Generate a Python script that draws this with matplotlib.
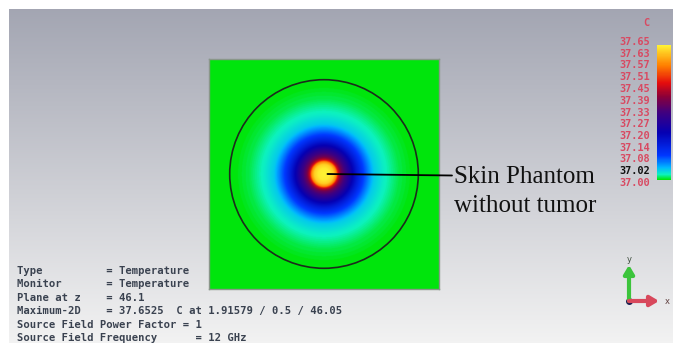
import numpy as np
import matplotlib
matplotlib.use("Agg")
import matplotlib.pyplot as plt
from matplotlib.colors import LinearSegmentedColormap
from matplotlib.patches import Circle

# Radial temperature profile through the hot spot (distance from centre, deg C)
radius_pts = [0.0, 2.5, 4.2, 5.4, 6.2, 7.6, 11.7, 14.3, 17.0, 19.6, 21.7, 26.1, 32.6, 39.1, 80.0]
temp_pts = [37.6525, 37.645, 37.62, 37.56, 37.45, 37.37, 37.25, 37.18, 37.12, 37.08, 37.05, 37.03, 37.01, 37.00, 37.00]
t_min, t_max = 37.00, 37.6525
phantom_radius = 41.0
half_width = 50.0

scale_labels = ['37.65', '37.63', '37.57', '37.51', '37.45', '37.39', '37.33',
                '37.27', '37.20', '37.14', '37.08', '37.02', '37.00']

info_lines = ["Type          = Temperature",
              "Monitor       = Temperature",
              "Plane at z    = 46.1",
              "Maximum-2D    = 37.6525  C at 1.91579 / 0.5 / 46.05",
              "Source Field Power Factor = 1",
              "Source Field Frequency      = 12 GHz"]

# CST style colour scale
cst = LinearSegmentedColormap.from_list('cst', [
    (0.00, (0.00, 0.90, 0.05)),
    (0.04, (0.05, 0.95, 0.75)),
    (0.09, (0.00, 0.72, 1.00)),
    (0.18, (0.00, 0.22, 1.00)),
    (0.35, (0.02, 0.00, 0.70)),
    (0.50, (0.25, 0.00, 0.50)),
    (0.62, (0.55, 0.00, 0.22)),
    (0.72, (0.90, 0.05, 0.05)),
    (0.85, (1.00, 0.50, 0.00)),
    (1.00, (1.00, 0.95, 0.20))])

W, H = 673, 343
fig = plt.figure(figsize=(W / 100, H / 100), dpi=100, facecolor='white')

# grey-to-white backdrop
bg = fig.add_axes([9 / W, 0, (W - 9) / W, (H - 9) / H])
top = np.array([0.64, 0.65, 0.70])
bot = np.array([0.95, 0.95, 0.95])
f = np.linspace(0, 1, 300)[:, None, None]
bg.imshow(top + (bot - top) * f, aspect='auto', extent=(0, 1, 0, 1))
bg.axis('off')

# field plot
ax = fig.add_axes([209 / W, (H - 289) / H, 230 / W, 230 / H])
g = np.linspace(-half_width, half_width, 500)
X, Y = np.meshgrid(g, g)
R = np.hypot(X, Y)
T = np.interp(R, radius_pts, temp_pts)
im = ax.imshow(T, cmap=cst, vmin=t_min, vmax=t_max, origin='lower',
               extent=(-half_width, half_width, -half_width, half_width),
               interpolation='bilinear')
ax.add_patch(Circle((0, 0), phantom_radius, fill=False, ec='#1c2c1c', lw=1.2))
ax.set_xticks([])
ax.set_yticks([])
for s in ax.spines.values():
    s.set_color('#8a968a')
    s.set_linewidth(1.0)

# overlay in pixel units for labels
ov = fig.add_axes([0, 0, 1, 1], facecolor='none')
ov.set_xlim(0, W)
ov.set_ylim(H, 0)
ov.axis('off')

ax.annotate('', xy=(1.5, 0.0), xycoords='data',
            xytext=(452, 175.5), textcoords=ov.transData,
            arrowprops=dict(arrowstyle='-', color='black', lw=1.3,
                            shrinkA=0, shrinkB=0))
ov.text(454, 183, 'Skin Phantom', family='Liberation Serif', fontsize=18,
        va='baseline', ha='left', color='#111111')
ov.text(454, 212, 'without tumor', family='Liberation Serif', fontsize=18,
        va='baseline', ha='left', color='#111111')

# colour bar
cax = fig.add_axes([657 / W, (H - 180) / H, 14 / W, 135 / H])
cb = fig.colorbar(im, cax=cax)
cb.set_ticks([])
cb.outline.set_visible(False)

for lab, y in zip(scale_labels, np.linspace(42, 183, len(scale_labels))):
    col = '#111111' if lab == '37.02' else '#d84a62'
    ov.text(650, y, lab, family='DejaVu Sans Mono', fontsize=7.4, fontweight='bold',
            color=col, ha='right', va='center')
ov.text(646, 23, 'C', family='DejaVu Sans Mono', fontsize=7.4, fontweight='bold',
        color='#d84a62', ha='center', va='center')

# info block
for i, line in enumerate(info_lines):
    ov.text(17, 271 + i * 13.4, line, family='DejaVu Sans Mono', fontsize=7.6,
            fontweight='bold', color='#3a4250', ha='left', va='center')

# axis triad
ox, oy = 629, 301
ov.annotate('', xy=(ox, 265), xytext=(ox, oy),
            arrowprops=dict(arrowstyle='-|>,head_length=0.5,head_width=0.3',
                            color='#3cc43c', lw=3, shrinkA=0, shrinkB=0))
ov.annotate('', xy=(659, oy), xytext=(ox, oy),
            arrowprops=dict(arrowstyle='-|>,head_length=0.5,head_width=0.3',
                            color='#d8485c', lw=3, shrinkA=0, shrinkB=0))
ov.plot(ox, oy, 'o', color='#1c1c50', ms=4)
ov.text(ox, 260, 'y', fontsize=6, color='#405040', ha='center', va='center')
ov.text(667, oy, 'x', fontsize=6, color='#604040', ha='center', va='center')

fig.savefig('out.png', dpi=100, facecolor='white')
